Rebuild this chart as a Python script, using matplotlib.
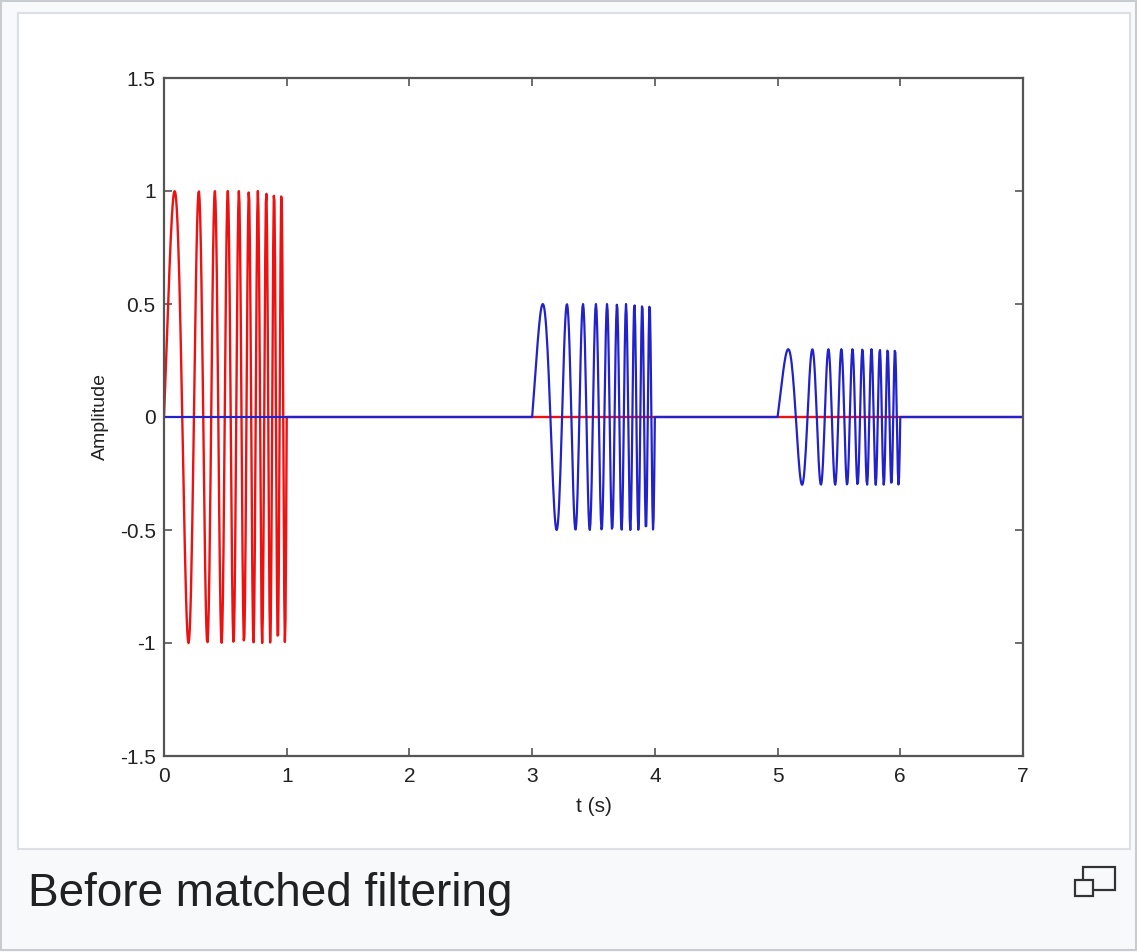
import numpy as np
import matplotlib
matplotlib.use('Agg')
import matplotlib.pyplot as plt
from matplotlib.patches import Rectangle
from matplotlib import font_manager

# chirp pulse
pulse_start = [0.0, 3.0, 5.0]      # s
pulse_amp = [1.0, 0.5, 0.3]
pulse_len = 1.0                    # s
f_start = 2.2                      # Hz at pulse start
f_end = 17.8                       # Hz at pulse end
fs = 200                           # samples per second
t_end = 7.0

x_ticks = [0, 1, 2, 3, 4, 5, 6, 7]
y_ticks = [-1.5, -1, -0.5, 0, 0.5, 1, 1.5]
y_labels = ['-1.5', '-1', '-0.5', '0', '0.5', '1', '1.5']
caption = 'Before matched filtering'

names = {f.name for f in font_manager.fontManager.ttflist}
tick_font = 'Liberation Sans Narrow' if 'Liberation Sans Narrow' in names else 'Liberation Sans'

t = np.arange(0, int(t_end * fs) + 1) / fs


def pulse(t0, amp):
    tau = t - t0
    k = (f_end - f_start) / pulse_len
    s = amp * np.sin(2 * np.pi * (f_start * tau + 0.5 * k * tau ** 2))
    s[(tau < 0) | (tau > pulse_len)] = 0
    return s


sent = pulse(pulse_start[0], pulse_amp[0])
received = pulse(pulse_start[1], pulse_amp[1]) + pulse(pulse_start[2], pulse_amp[2])

fig = plt.figure(figsize=(11.37, 9.52), dpi=100)
W, H = 1137, 952


def px_rect(x0, y0, x1, y1, z=-5, **kw):
    # rectangle given in image pixels (top-left origin)
    fig.patches.append(Rectangle((x0 / W, 1 - y1 / H), (x1 - x0) / W, (y1 - y0) / H,
                                 transform=fig.transFigure, figure=fig, zorder=z, **kw))


fig.patch.set_facecolor('#f8f9fa')
px_rect(1, 1, 1136, 950, facecolor='none', edgecolor='#c8ccd1', linewidth=1.5)
px_rect(18, 13, 1130, 849, facecolor='white', edgecolor='#dcdfe3', linewidth=1.5)

# enlarge icon
px_rect(1083, 867, 1115, 890, facecolor='none', edgecolor='#333333', linewidth=1.6)
px_rect(1075, 880, 1093, 896, z=-4, facecolor='#f8f9fa', edgecolor='#333333', linewidth=1.6)

ax = fig.add_axes([164 / W, 1 - 756 / H, (1023 - 164) / W, (756 - 78) / H])
ax.patch.set_alpha(0)
ax.plot(t, sent, color='#ee1111', linewidth=1.7)
ax.plot(t, received, color='#2222cc', linewidth=1.6)

ax.set_xlim(0, 7)
ax.set_ylim(-1.5, 1.5)
ax.set_xticks(x_ticks)
ax.set_yticks(y_ticks)
ax.set_yticklabels(y_labels)
ax.tick_params(direction='in', length=6, width=1.2, color='#555555',
               top=True, right=True, labelsize=15, pad=6, labelcolor='#222222')
ax.tick_params(axis='x', pad=8)
for lab in ax.get_xticklabels() + ax.get_yticklabels():
    lab.set_family(tick_font)
for sp in ax.spines.values():
    sp.set_color('#555555')
    sp.set_linewidth(1.6)

ax.set_xlabel('t (s)', fontsize=15, family=tick_font, color='#222222', labelpad=8)
ax.set_ylabel('Amplitude', fontsize=14, family=tick_font, color='#222222', labelpad=8)

fig.text(28 / W, 1 - 906 / H, caption, fontsize=33, family='Liberation Sans',
         color='#202122', va='baseline', ha='left')

fig.savefig('out.png', dpi=100, facecolor=fig.get_facecolor())
